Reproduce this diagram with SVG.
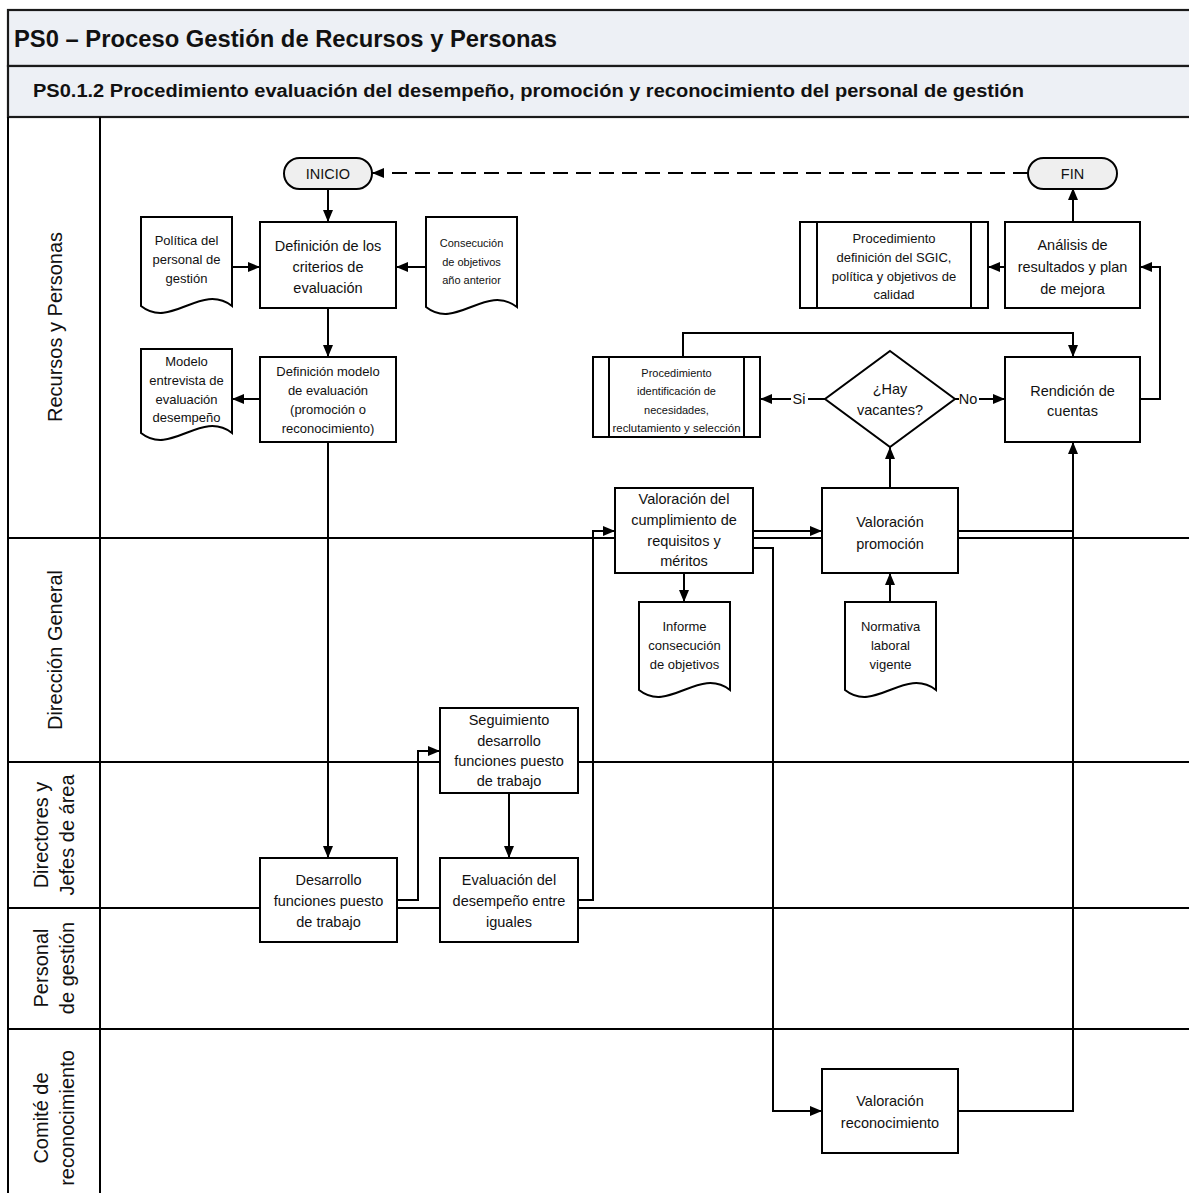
<svg xmlns="http://www.w3.org/2000/svg" width="1189" height="1193" viewBox="0 0 1189 1193">
  <style>
    .frame { fill: none; stroke: #000; stroke-width: 2.2; }
    .hdr { fill: #edf0f5; stroke: #1a1a1a; stroke-width: 2.2; }
    .lane { stroke: #000; stroke-width: 2; fill: none; }
    .box { fill: #fff; stroke: #000; stroke-width: 2; }
    .term { fill: #efefef; stroke: #000; stroke-width: 2; }
    .conn { fill: none; stroke: #000; stroke-width: 2; }
    .dash { stroke-dasharray: 15 8; }
    text { font-family: "Liberation Sans", Arial, sans-serif; fill: #111; }
    .h1 { font-size: 23px; font-weight: bold; }
    .h2 { font-size: 17.5px; font-weight: bold; }
    .ln { font-size: 20px; text-anchor: middle; dominant-baseline: central; }
    .t15 { font-size: 14.5px; text-anchor: middle; dominant-baseline: central; }
    .t14 { font-size: 13px; text-anchor: middle; dominant-baseline: central; }
    .t12 { font-size: 11px; text-anchor: middle; dominant-baseline: central; }
    .t11 { font-size: 11px; text-anchor: middle; dominant-baseline: central; }
  </style>
  <defs>
    <marker id="arrow" markerUnits="userSpaceOnUse" viewBox="0 0 12 10" refX="12" refY="5" markerWidth="12" markerHeight="10" orient="auto">
      <path d="M0,0 L12,5 L0,10 Z" fill="#000"/>
    </marker>
  </defs>

  <rect width="1189" height="1193" fill="#fff"/>

  <!-- Pool headers -->
  <g id="pool-header">
    <rect class="hdr" x="8" y="10" width="1200" height="56"/>
    <text class="h1" x="14" y="47" textLength="543" lengthAdjust="spacingAndGlyphs">PS0 – Proceso Gestión de Recursos y Personas</text>
    <rect class="hdr" x="8" y="66" width="1200" height="51"/>
    <text class="h2" x="33" y="97" textLength="991" lengthAdjust="spacingAndGlyphs">PS0.1.2 Procedimiento evaluación del desempeño, promoción y reconocimiento del personal de gestión</text>
  </g>

  <!-- Swimlanes -->
  <g id="lanes">
    <line class="lane" x1="8" y1="117" x2="8" y2="1200"/>
    <line class="lane" x1="100" y1="117" x2="100" y2="1200"/>
    <line class="lane" x1="8" y1="538" x2="1200" y2="538"/>
    <line class="lane" x1="8" y1="762" x2="1200" y2="762"/>
    <line class="lane" x1="8" y1="908" x2="1200" y2="908"/>
    <line class="lane" x1="8" y1="1029" x2="1200" y2="1029"/>
    <text class="ln" transform="translate(55,327) rotate(-90)">Recursos y Personas</text>
    <text class="ln" transform="translate(55,650) rotate(-90)">Dirección General</text>
    <text class="ln" transform="translate(41,835) rotate(-90)">Directores y</text>
    <text class="ln" transform="translate(67,835) rotate(-90)">Jefes de área</text>
    <text class="ln" transform="translate(41,968) rotate(-90)">Personal</text>
    <text class="ln" transform="translate(67,968) rotate(-90)">de gestión</text>
    <text class="ln" transform="translate(41,1118) rotate(-90)">Comité de</text>
    <text class="ln" transform="translate(67,1118) rotate(-90)">reconocimiento</text>
  </g>

  <!-- Connectors -->
  <g id="connectors">
    <path class="conn dash" d="M1028,173 H372" marker-end="url(#arrow)"/>
    <path class="conn" d="M328,190 V222" marker-end="url(#arrow)"/>
    <path class="conn" d="M232,267 H260" marker-end="url(#arrow)"/>
    <path class="conn" d="M426,267 H396" marker-end="url(#arrow)"/>
    <path class="conn" d="M328,308 V357" marker-end="url(#arrow)"/>
    <path class="conn" d="M260,399 H232" marker-end="url(#arrow)"/>
    <path class="conn" d="M328,442 V858" marker-end="url(#arrow)"/>
    <path class="conn" d="M397,900 H418 V751 H440" marker-end="url(#arrow)"/>
    <path class="conn" d="M509,793 V858" marker-end="url(#arrow)"/>
    <path class="conn" d="M578,900 H593 V531 H615" marker-end="url(#arrow)"/>
    <path class="conn" d="M753,531 H822" marker-end="url(#arrow)"/>
    <path class="conn" d="M753,548 H773 V1111 H822" marker-end="url(#arrow)"/>
    <path class="conn" d="M684,573 V602" marker-end="url(#arrow)"/>
    <path class="conn" d="M890,602 V573" marker-end="url(#arrow)"/>
    <path class="conn" d="M890,488 V447" marker-end="url(#arrow)"/>
    <path class="conn" d="M825,399 H760" marker-end="url(#arrow)"/>
    <path class="conn" d="M955,399 H1005" marker-end="url(#arrow)"/>
    <path class="conn" d="M683,357 V333 H1073 V357" marker-end="url(#arrow)"/>
    <path class="conn" d="M958,531 H1073"/>
    <path class="conn" d="M958,1111 H1073 V442" marker-end="url(#arrow)"/>
    <path class="conn" d="M1140,399 H1160 V267 H1140" marker-end="url(#arrow)"/>
    <path class="conn" d="M1005,267 H988" marker-end="url(#arrow)"/>
    <path class="conn" d="M1073,222 V188" marker-end="url(#arrow)"/>
    <rect x="791" y="390" width="17" height="18" fill="#fff"/>
    <text class="t15" x="799" y="399">Si</text>
    <rect x="959" y="390" width="20" height="18" fill="#fff"/>
    <text class="t15" x="968" y="399">No</text>
  </g>

  <!-- Nodes -->
  <g id="inicio">
    <rect class="term" x="284" y="158" width="88" height="31" rx="15.5"/>
    <text class="t15" x="328" y="173.5">INICIO</text>
  </g>
  <g id="fin">
    <rect class="term" x="1028" y="158" width="89" height="31" rx="15.5"/>
    <text class="t15" x="1072.5" y="173.5">FIN</text>
  </g>

  <g id="politica-personal">
    <path class="box" d="M141,217 H232 V306 C201,282 171,330 141,306 Z"/>
    <text class="t14" x="186.5" y="240">Política del</text>
    <text class="t14" x="186.5" y="259">personal de</text>
    <text class="t14" x="186.5" y="278">gestión</text>
  </g>
  <g id="definicion-criterios">
    <rect class="box" x="260" y="222" width="136" height="86"/>
    <text class="t15" x="328" y="246">Definición de los</text>
    <text class="t15" x="328" y="267">criterios de</text>
    <text class="t15" x="328" y="288">evaluación</text>
  </g>
  <g id="consecucion-anterior">
    <path class="box" d="M426,217 H517 V307 C486,283 456,331 426,307 Z"/>
    <text class="t11" x="471.5" y="243">Consecución</text>
    <text class="t11" x="471.5" y="262">de objetivos</text>
    <text class="t11" x="471.5" y="280">año anterior</text>
  </g>
  <g id="modelo-entrevista">
    <path class="box" d="M141,349 H232 V433 C201,409 171,457 141,433 Z"/>
    <text class="t14" x="186.5" y="361">Modelo</text>
    <text class="t14" x="186.5" y="380">entrevista de</text>
    <text class="t14" x="186.5" y="399">evaluación</text>
    <text class="t14" x="186.5" y="417">desempeño</text>
  </g>
  <g id="definicion-modelo">
    <rect class="box" x="260" y="357" width="136" height="85"/>
    <text class="t14" x="328" y="371">Definición modelo</text>
    <text class="t14" x="328" y="390">de evaluación</text>
    <text class="t14" x="328" y="409">(promoción o</text>
    <text class="t14" x="328" y="428">reconocimiento)</text>
  </g>

  <g id="procedimiento-sgic">
    <rect class="box" x="800" y="222" width="188" height="86"/>
    <line class="conn" x1="817" y1="222" x2="817" y2="308"/>
    <line class="conn" x1="971" y1="222" x2="971" y2="308"/>
    <text class="t14" x="894" y="238">Procedimiento</text>
    <text class="t14" x="894" y="257">definición del SGIC,</text>
    <text class="t14" x="894" y="276">política y objetivos de</text>
    <text class="t14" x="894" y="294">calidad</text>
  </g>
  <g id="analisis-resultados">
    <rect class="box" x="1005" y="222" width="135" height="86"/>
    <text class="t15" x="1072.5" y="245">Análisis de</text>
    <text class="t15" x="1072.5" y="267">resultados y plan</text>
    <text class="t15" x="1072.5" y="289">de mejora</text>
  </g>
  <g id="procedimiento-seleccion">
    <rect class="box" x="593" y="357" width="167" height="80"/>
    <line class="conn" x1="609" y1="357" x2="609" y2="437"/>
    <line class="conn" x1="744" y1="357" x2="744" y2="437"/>
    <text class="t12" x="676.5" y="373">Procedimiento</text>
    <text class="t12" x="676.5" y="391">identificación de</text>
    <text class="t12" x="676.5" y="410">necesidades,</text>
    <text class="t12" x="676.5" y="428" textLength="128" lengthAdjust="spacingAndGlyphs">reclutamiento y selección</text>
  </g>
  <g id="hay-vacantes">
    <polygon class="box" points="890,351 955,399 890,447 825,399"/>
    <text class="t15" x="890" y="389">¿Hay</text>
    <text class="t15" x="890" y="410">vacantes?</text>
  </g>
  <g id="rendicion-cuentas">
    <rect class="box" x="1005" y="357" width="135" height="85"/>
    <text class="t15" x="1072.5" y="391">Rendición de</text>
    <text class="t15" x="1072.5" y="411">cuentas</text>
  </g>

  <g id="valoracion-cumplimiento">
    <rect class="box" x="615" y="488" width="138" height="85"/>
    <text class="t15" x="684" y="499">Valoración del</text>
    <text class="t15" x="684" y="520">cumplimiento de</text>
    <text class="t15" x="684" y="541">requisitos y</text>
    <text class="t15" x="684" y="561">méritos</text>
  </g>
  <g id="valoracion-promocion">
    <rect class="box" x="822" y="488" width="136" height="85"/>
    <text class="t15" x="890" y="522">Valoración</text>
    <text class="t15" x="890" y="544">promoción</text>
  </g>
  <g id="informe-consecucion">
    <path class="box" d="M639,602 H730 V690 C699,666 669,714 639,690 Z"/>
    <text class="t14" x="684.5" y="626">Informe</text>
    <text class="t14" x="684.5" y="645">consecución</text>
    <text class="t14" x="684.5" y="664">de objetivos</text>
  </g>
  <g id="normativa-laboral">
    <path class="box" d="M845,602 H936 V690 C905,666 875,714 845,690 Z"/>
    <text class="t14" x="890.5" y="626">Normativa</text>
    <text class="t14" x="890.5" y="645">laboral</text>
    <text class="t14" x="890.5" y="664">vigente</text>
  </g>

  <g id="seguimiento-funciones">
    <rect class="box" x="440" y="708" width="138" height="85"/>
    <text class="t15" x="509" y="720">Seguimiento</text>
    <text class="t15" x="509" y="741">desarrollo</text>
    <text class="t15" x="509" y="761">funciones puesto</text>
    <text class="t15" x="509" y="781">de trabajo</text>
  </g>
  <g id="desarrollo-funciones">
    <rect class="box" x="260" y="858" width="137" height="84"/>
    <text class="t15" x="328.5" y="880">Desarrollo</text>
    <text class="t15" x="328.5" y="901">funciones puesto</text>
    <text class="t15" x="328.5" y="922">de trabajo</text>
  </g>
  <g id="evaluacion-iguales">
    <rect class="box" x="440" y="858" width="138" height="84"/>
    <text class="t15" x="509" y="880">Evaluación del</text>
    <text class="t15" x="509" y="901">desempeño entre</text>
    <text class="t15" x="509" y="922">iguales</text>
  </g>

  <g id="valoracion-reconocimiento">
    <rect class="box" x="822" y="1069" width="136" height="84"/>
    <text class="t15" x="890" y="1101">Valoración</text>
    <text class="t15" x="890" y="1123">reconocimiento</text>
  </g>
</svg>
